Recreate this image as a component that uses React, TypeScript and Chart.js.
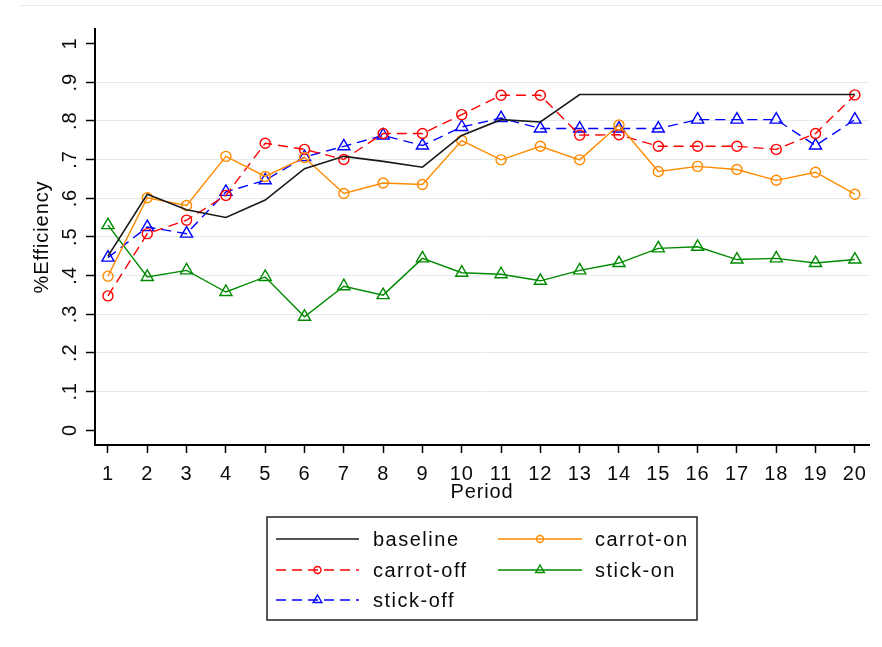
import React, { useEffect, useRef } from 'react';
import { Chart, registerables } from 'chart.js';

Chart.register(...registerables);

const periods = [1, 2, 3, 4, 5, 6, 7, 8, 9, 10, 11, 12, 13, 14, 15, 16, 17, 18, 19, 20];
const baseline = [0.45, 0.61, 0.57, 0.55, 0.595, 0.676, 0.708, 0.695, 0.68, 0.762, 0.803, 0.797, 0.868, 0.868, 0.868, 0.868, 0.868, 0.868, 0.868, 0.868];
const carrotOn = [0.398, 0.601, 0.581, 0.708, 0.656, 0.705, 0.612, 0.639, 0.635, 0.749, 0.699, 0.734, 0.699, 0.789, 0.669, 0.682, 0.674, 0.646, 0.667, 0.61];
const carrotOff = [0.347, 0.508, 0.543, 0.607, 0.742, 0.726, 0.7, 0.767, 0.767, 0.816, 0.866, 0.866, 0.763, 0.764, 0.734, 0.734, 0.734, 0.726, 0.767, 0.867];
const stickOn = [0.53, 0.396, 0.413, 0.357, 0.396, 0.293, 0.372, 0.349, 0.444, 0.407, 0.403, 0.386, 0.413, 0.432, 0.47, 0.474, 0.441, 0.444, 0.432, 0.441];
const stickOff = [0.446, 0.525, 0.508, 0.616, 0.646, 0.706, 0.734, 0.762, 0.736, 0.784, 0.807, 0.78, 0.78, 0.78, 0.78, 0.803, 0.803, 0.803, 0.736, 0.803];
const yTickValues = [0, 0.1, 0.2, 0.3, 0.4, 0.5, 0.6, 0.7, 0.8, 0.9, 1];
const seriesNames = ['baseline', 'carrot-on', 'carrot-off', 'stick-on', 'stick-off'];
const xTitle = 'Period';
const yTitle = '%Efficiency';

const FONT = "'Liberation Sans', Arial, sans-serif";
const TEXT = '#0a0a0a';
const ORANGE = '#ff8a00';
const RED = '#ff0000';
const GREEN = '#008a00';
const BLUE = '#0000ff';
const BLACK = '#1a1a1a';
const SPACING = '0.9px';
const LEGEND_SPACING = '1.5px';

const yLabel = (v: number) => (v === 0 ? '0' : v === 1 ? '1' : '.' + Math.round(v * 10));
const mk = (arr: number[]) => arr.map((y, i) => ({ x: periods[i], y }));

function drawMarker(ctx: CanvasRenderingContext2D, style: string, x: number, y: number, r: number) {
  ctx.beginPath();
  if (style === 'triangle') {
    let rad = 0;
    ctx.moveTo(x + Math.sin(rad) * r, y - Math.cos(rad) * r);
    rad += (2 * Math.PI) / 3;
    ctx.lineTo(x + Math.sin(rad) * r, y - Math.cos(rad) * r);
    rad += (2 * Math.PI) / 3;
    ctx.lineTo(x + Math.sin(rad) * r, y - Math.cos(rad) * r);
    ctx.closePath();
  } else {
    ctx.arc(x, y, r, 0, Math.PI * 2);
  }
  ctx.stroke();
}

export default function App() {
  const ref = useRef<HTMLCanvasElement>(null);

  useEffect(() => {
    document.body.style.margin = '0';
    const canvas = ref.current!;
    const setSpacing = (chart: any) => {
      (chart.ctx as any).letterSpacing = SPACING;
    };

    const stataLegend = {
      id: 'stataLegend',
      beforeLayout: setSpacing,
      beforeDraw(chart: any) {
        setSpacing(chart);
        const ctx = chart.ctx as CanvasRenderingContext2D;
        ctx.save();
        ctx.fillStyle = '#ffffff';
        ctx.fillRect(0, 0, chart.width, chart.height);
        ctx.strokeStyle = '#e6ecef';
        ctx.lineWidth = 1;
        ctx.beginPath();
        ctx.moveTo(20, 5.5);
        ctx.lineTo(chart.width, 5.5);
        ctx.stroke();
        ctx.restore();
      },
      afterDraw(chart: any) {
        const ctx = chart.ctx as CanvasRenderingContext2D;
        ctx.save();
        (ctx as any).letterSpacing = LEGEND_SPACING;
        ctx.strokeStyle = '#222222';
        ctx.lineWidth = 1.5;
        ctx.strokeRect(267, 517, 430, 103);
        const rows = [539, 570, 600];
        const samples = [[276, 359], [498, 582]];
        const textX = [373, 595];
        chart.data.datasets.forEach((ds: any, i: number) => {
          const r = Math.floor(i / 2);
          const c = i % 2;
          const y = rows[r];
          const [x1, x2] = samples[c];
          ctx.strokeStyle = ds.borderColor;
          ctx.lineWidth = ds.borderWidth;
          ctx.setLineDash(ds.borderDash || []);
          ctx.beginPath();
          ctx.moveTo(x1, y);
          ctx.lineTo(x2, y);
          ctx.stroke();
          ctx.setLineDash([]);
          if (ds.pointRadius > 0) {
            ctx.lineWidth = 1.4;
            drawMarker(ctx, ds.pointStyle, (x1 + x2) / 2, y, ds.pointStyle === 'triangle' ? 5 : 3.5);
          }
          ctx.fillStyle = TEXT;
          ctx.font = `20px ${FONT}`;
          ctx.textAlign = 'left';
          ctx.textBaseline = 'middle';
          ctx.fillText(ds.label, textX[c], y + 1);
        });
        ctx.restore();
      },
    };

    const hollow = (color: string, style: string, radius: number, dashed: boolean) => ({
      borderColor: color,
      borderWidth: 1.4,
      borderDash: dashed ? [10, 6] : [],
      pointStyle: style,
      pointRadius: radius,
      pointBorderColor: color,
      pointBackgroundColor: 'rgba(0,0,0,0)',
      pointBorderWidth: 1.4,
      tension: 0,
      fill: false,
    });

    const chart = new Chart(canvas, {
      type: 'line',
      data: {
        datasets: [
          { label: seriesNames[0], data: mk(baseline), borderColor: BLACK, borderWidth: 1.6, pointRadius: 0, tension: 0, fill: false } as any,
          { label: seriesNames[1], data: mk(carrotOn), ...hollow(ORANGE, 'circle', 5, false) },
          { label: seriesNames[2], data: mk(carrotOff), ...hollow(RED, 'circle', 5, true) },
          { label: seriesNames[3], data: mk(stickOn), ...hollow(GREEN, 'triangle', 7, false) },
          { label: seriesNames[4], data: mk(stickOff), ...hollow(BLUE, 'triangle', 7, true) },
        ],
      },
      options: {
        responsive: false,
        animation: false,
        events: [],
        devicePixelRatio: 1,
        layout: { padding: { top: 29, right: 13, bottom: 142, left: 0 } },
        plugins: { legend: { display: false }, tooltip: { enabled: false } },
        scales: {
          x: {
            type: 'linear',
            min: 0.67,
            max: 20.36,
            afterBuildTicks: (s: any) => {
              s.ticks = periods.map((v) => ({ value: v }));
            },
            afterFit: (s: any) => {
              s.height = 60;
            },
            grid: { drawOnChartArea: false, drawTicks: true, tickLength: 8, tickColor: '#000', tickWidth: 1.5 },
            border: { display: true, color: '#000', width: 2 },
            ticks: {
              autoSkip: false,
              maxRotation: 0,
              minRotation: 0,
              padding: 9,
              color: TEXT,
              font: { family: FONT, size: 20 },
              callback: (v: any) => String(v),
            },
            title: { display: true, text: xTitle, color: TEXT, font: { family: FONT, size: 20 }, padding: { top: 0, bottom: 1 } },
          },
          y: {
            type: 'linear',
            min: -0.0388,
            max: 1.0375,
            afterBuildTicks: (s: any) => {
              s.ticks = yTickValues.map((v) => ({ value: v }));
            },
            afterFit: (s: any) => {
              s.width = 95;
            },
            grid: {
              color: (c: any) => (c.tick && (c.tick.value === 0 || c.tick.value === 1) ? 'rgba(0,0,0,0)' : '#e3ebee'),
              lineWidth: 1,
              drawTicks: true,
              tickLength: 9,
              tickColor: '#000',
              tickWidth: 1.5,
            },
            border: { display: true, color: '#000', width: 2 },
            ticks: {
              minRotation: 90,
              maxRotation: 90,
              crossAlign: 'center',
              padding: 6,
              color: TEXT,
              font: { family: FONT, size: 20 },
              callback: (v: any) => yLabel(Number(v)),
            },
            title: { display: true, text: yTitle, color: TEXT, font: { family: FONT, size: 20 }, padding: { top: 30, bottom: 0 } },
          },
        },
      } as any,
      plugins: [stataLegend as any],
    });

    return () => chart.destroy();
  }, []);

  return (
    <div style={{ width: 882, height: 647 }}>
      <canvas ref={ref} width={882} height={647} style={{ display: 'block' }} />
    </div>
  );
}
